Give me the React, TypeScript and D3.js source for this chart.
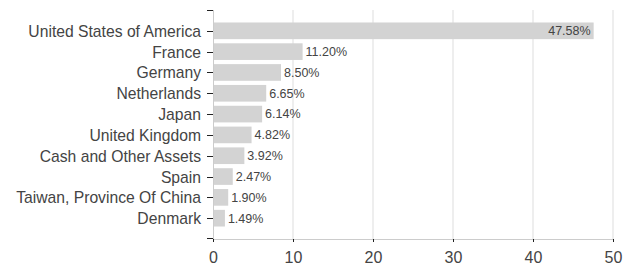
import React from 'react';
import * as d3 from 'd3';

const countries = [
    'United States of America',
    'France',
    'Germany',
    'Netherlands',
    'Japan',
    'United Kingdom',
    'Cash and Other Assets',
    'Spain',
    'Taiwan, Province Of China',
    'Denmark'
];
const weights = [47.58, 11.2, 8.5, 6.65, 6.14, 4.82, 3.92, 2.47, 1.9, 1.49];
const xTicks = [0, 10, 20, 30, 40, 50];

export default function App() {
    const width = 624, height = 268;
    const margin = { top: 10, right: 11, bottom: 29, left: 213 };
    const w = width - margin.left - margin.right,
        h = height - margin.top - margin.bottom;

    const x = d3.scaleLinear().domain([0, 50]).range([0, w]);
    const y = d3.scaleBand<string>()
        .domain(countries)
        .range([0, h])
        .paddingInner(0.2)
        .paddingOuter(0.6);

    const font = 'Arial, "Liberation Sans", sans-serif';

    return (
        <svg width={width} height={height}
            style={{ position: 'absolute', left: 0, top: 0 }}
            fontFamily={font}>
            <g transform={`translate(${margin.left},${margin.top})`}>
                {/* grid */}
                {xTicks.slice(1).map(t => (
                    <line key={t} x1={x(t)} x2={x(t)} y1={0} y2={h}
                        stroke="#ddd" strokeWidth={1} />
                ))}
                {/* bars */}
                {countries.map((c, i) => (
                    <rect key={c} x={0} y={y(c)} width={x(weights[i])}
                        height={y.bandwidth()} fill="#d3d3d3" />
                ))}
                {/* value labels */}
                {countries.map((c, i) => {
                    const inside = weights[i] > 40;
                    return (
                        <text key={c}
                            x={inside ? x(weights[i]) - 3 : x(weights[i]) + 3}
                            y={(y(c) ?? 0) + y.bandwidth() / 2}
                            dy="0.35em" fontSize={12.5} fill="#444"
                            textAnchor={inside ? 'end' : 'start'}>
                            {weights[i].toFixed(2)}%
                        </text>
                    );
                })}
                {/* y axis */}
                <line x1={0.5} x2={0.5} y1={0} y2={h} stroke="#ccc" />
                <line x1={-6} x2={0} y1={0.5} y2={0.5} stroke="#222" />
                <line x1={-6} x2={0} y1={h - 0.5} y2={h - 0.5} stroke="#222" />
                {countries.map(c => {
                    const cy = Math.round((y(c) ?? 0) + y.bandwidth() / 2) + 0.5;
                    return (
                        <g key={c}>
                            <line x1={-6} x2={0} y1={cy} y2={cy} stroke="#222" />
                            <text x={-12} y={cy} dy="0.35em" textAnchor="end"
                                fontSize={15.7} fill="#444">{c}</text>
                        </g>
                    );
                })}
                {/* x axis */}
                <line x1={0} x2={w} y1={h + 0.5} y2={h + 0.5} stroke="#ccc" />
                {xTicks.map(t => (
                    <g key={t} transform={`translate(${Math.round(x(t)) + 0.5},${h})`}>
                        <line y1={0} y2={3} stroke="#222" />
                        <text y={13} dy="0.71em" textAnchor="middle"
                            fontSize={16} fill="#444">{t}</text>
                    </g>
                ))}
            </g>
        </svg>
    );
}
